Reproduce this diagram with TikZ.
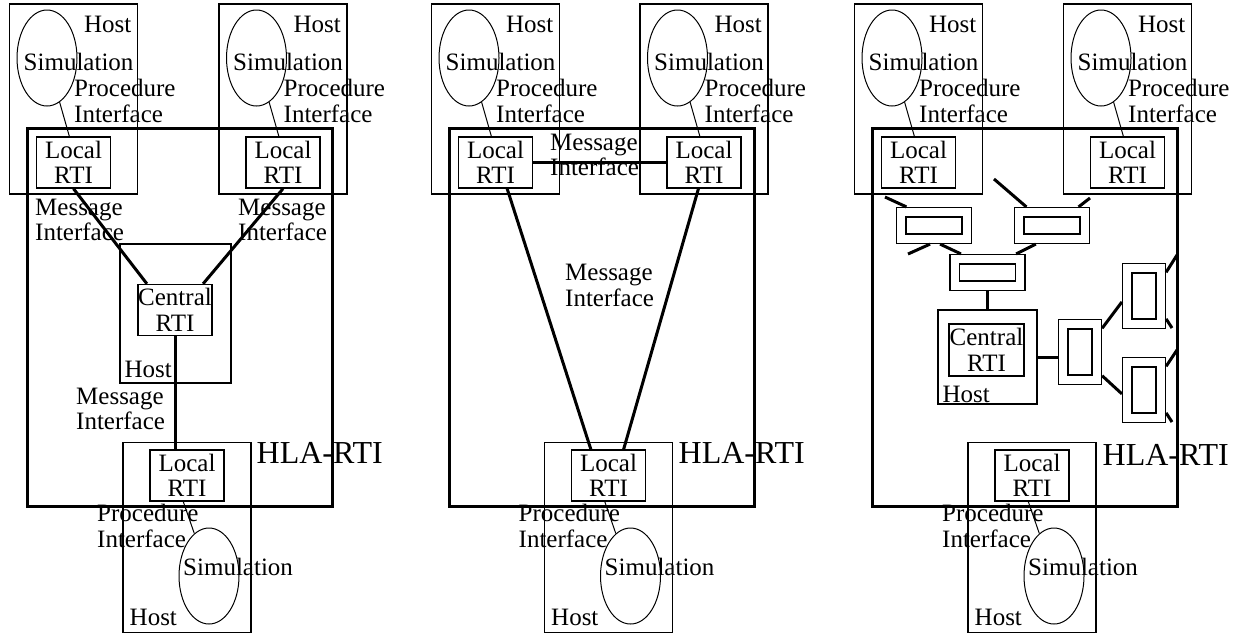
\documentclass[tikz,border=0pt]{standalone}
\usepackage{fontspec}
\setmainfont{Liberation Serif}
\usetikzlibrary{calc, shapes.geometric}

\begin{document}
\begin{tikzpicture}[x=1pt, y=-1pt, font=\fontsize{25}{25.5}\selectfont]
    \tikzstyle{host} = [rectangle, draw, line width=1.2pt, minimum width=128, minimum height=190, inner sep=0]
    \tikzstyle{rti} = [rectangle, draw, line width=1.4pt, minimum width=74, minimum height=51, inner sep=0, align=center]
    \tikzstyle{sim} = [ellipse, draw, line width=1pt, minimum width=60, minimum height=96, inner sep=0]
    \tikzstyle{hla} = [rectangle, draw, line width=3pt, minimum width=305, minimum height=378, inner sep=0]
    \tikzstyle{hubh} = [rectangle, draw, line width=1.2pt, double, double distance=8.3pt, outer sep=5.35pt, inner sep=0, minimum width=65.5, minimum height=26.5]
    \tikzstyle{hubv} = [hubh, minimum width=33.5, minimum height=55.5]
    \tikzstyle{txt} = [inner sep=0, align=left]
    \tikzstyle{link} = [line width=3pt]
    \tikzstyle{call} = [line width=1pt]

    \useasboundingbox (0, 0) rectangle (1238, 633);

    % Central RTI ----------------------------------------
    \node (hostA1) at (73.5, 99) [host] {};
    \node (simA1) at ($(hostA1) + (-26.5, -41)$) [sim] {};
    \node (rtiA1) at ($(hostA1) + (0, 63.5)$) [rti] {Local\\RTI};
    \node (hostA1txt) at ($(hostA1) + (58, -67)$) [txt, anchor=base east] {Host};
    \node (simA1txt) at ($(hostA1) + (-50, -29)$) [txt, anchor=base west] {Simulation};
    \node (procA1) at ($(hostA1) + (0.5, -20)$) [txt, anchor=north west] {Procedure\\Interface};

    \node (hostA2) at (283, 99) [host] {};
    \node (simA2) at ($(hostA2) + (-26.5, -41)$) [sim] {};
    \node (rtiA2) at ($(hostA2) + (0, 63.5)$) [rti] {Local\\RTI};
    \node (hostA2txt) at ($(hostA2) + (58, -67)$) [txt, anchor=base east] {Host};
    \node (simA2txt) at ($(hostA2) + (-50, -29)$) [txt, anchor=base west] {Simulation};
    \node (procA2) at ($(hostA2) + (0.5, -20)$) [txt, anchor=north west] {Procedure\\Interface};

    \node (hostA3) at (187, 537.5) [host] {};
    \node (simA3) at ($(hostA3) + (22, 38.5)$) [sim] {};
    \node (rtiA3) at ($(hostA3) + (0, -62)$) [rti] {Local\\RTI};
    \node (hostA3txt) at ($(hostA3) + (-57.5, 87.5)$) [txt, anchor=base west] {Host};
    \node (simA3txt) at ($(hostA3) + (-4, 37.5)$) [txt, anchor=base west] {Simulation};
    \node (procA3) at ($(hostA3) + (-90, -33.5)$) [txt, anchor=north west] {Procedure\\Interface};

    \node (hostA4) at (175.5, 313.5) [host, minimum width=111, minimum height=139] {};
    \node (rtiA4) at (175, 310) [rti] {Central\\RTI};
    \node (hostA4txt) at ($(hostA4.south west) + (5, -6)$) [txt, anchor=base west] {Host};

    \node (hlaA) at (180, 317) [hla] {};
    \node (hlaAtxt) at ($(hlaA.east) + (-77.5, 146)$) [txt, anchor=base west, font=\fontsize{32}{32}\selectfont] {HLA-RTI};

    \node (msgA1) at (35, 198.5) [txt, anchor=north west] {Message\\Interface};
    \node (msgA2) at (238, 198.5) [txt, anchor=north west] {Message\\Interface};
    \node (msgA3) at (76, 387.5) [txt, anchor=north west] {Message\\Interface};

    \draw [call] (simA1) -- (rtiA1.99);
    \draw [call] (simA2) -- (rtiA2.99);
    \draw [call] (rtiA3.-98) -- (simA3);
    \draw [link] (rtiA1.south) -- (rtiA4.137);
    \draw [link] (rtiA2.south) -- (rtiA4.43);
    \draw [link] (rtiA4.south) -- (rtiA4.south |- rtiA3.north);
    % ---------------------------------------------------

    % Distributed RTI ------------------------------------
    \node (hostB1) at (495.5, 99) [host] {};
    \node (simB1) at ($(hostB1) + (-26.5, -41)$) [sim] {};
    \node (rtiB1) at ($(hostB1) + (0, 63.5)$) [rti] {Local\\RTI};
    \node (hostB1txt) at ($(hostB1) + (58, -67)$) [txt, anchor=base east] {Host};
    \node (simB1txt) at ($(hostB1) + (-50, -29)$) [txt, anchor=base west] {Simulation};
    \node (procB1) at ($(hostB1) + (0.5, -20)$) [txt, anchor=north west] {Procedure\\Interface};

    \node (hostB2) at (704, 99) [host] {};
    \node (simB2) at ($(hostB2) + (-26.5, -41)$) [sim] {};
    \node (rtiB2) at ($(hostB2) + (0, 63.5)$) [rti] {Local\\RTI};
    \node (hostB2txt) at ($(hostB2) + (58, -67)$) [txt, anchor=base east] {Host};
    \node (simB2txt) at ($(hostB2) + (-50, -29)$) [txt, anchor=base west] {Simulation};
    \node (procB2) at ($(hostB2) + (0.5, -20)$) [txt, anchor=north west] {Procedure\\Interface};

    \node (hostB3) at (608.5, 537.5) [host] {};
    \node (simB3) at ($(hostB3) + (22, 38.5)$) [sim] {};
    \node (rtiB3) at ($(hostB3) + (0, -62)$) [rti] {Local\\RTI};
    \node (hostB3txt) at ($(hostB3) + (-57.5, 87.5)$) [txt, anchor=base west] {Host};
    \node (simB3txt) at ($(hostB3) + (-4, 37.5)$) [txt, anchor=base west] {Simulation};
    \node (procB3) at ($(hostB3) + (-90, -33.5)$) [txt, anchor=north west] {Procedure\\Interface};

    \node (hlaB) at (602, 317) [hla] {};
    \node (hlaBtxt) at ($(hlaB.east) + (-77.5, 146)$) [txt, anchor=base west, font=\fontsize{32}{32}\selectfont] {HLA-RTI};

    \node (msgB1) at (550, 133.5) [txt, anchor=north west] {Message\\Interface};
    \node (msgB2) at (565, 264) [txt, anchor=north west] {Message\\Interface};

    \draw [call] (simB1) -- (rtiB1.99);
    \draw [call] (simB2) -- (rtiB2.99);
    \draw [call] (rtiB3.-98) -- (simB3);
    \draw [link] (rtiB1.east) -- (rtiB2.west);
    \draw [link] (rtiB1.-66) -- (rtiB3.124);
    \draw [link] (rtiB2.-102) -- (rtiB3.60);
    % ---------------------------------------------------

    % Networked RTI --------------------------------------
    \node (hostC1) at (918.5, 99) [host] {};
    \node (simC1) at ($(hostC1) + (-26.5, -41)$) [sim] {};
    \node (rtiC1) at ($(hostC1) + (0, 63.5)$) [rti] {Local\\RTI};
    \node (hostC1txt) at ($(hostC1) + (58, -67)$) [txt, anchor=base east] {Host};
    \node (simC1txt) at ($(hostC1) + (-50, -29)$) [txt, anchor=base west] {Simulation};
    \node (procC1) at ($(hostC1) + (0.5, -20)$) [txt, anchor=north west] {Procedure\\Interface};

    \node (hostC2) at (1127.5, 99) [host] {};
    \node (simC2) at ($(hostC2) + (-26.5, -41)$) [sim] {};
    \node (rtiC2) at ($(hostC2) + (0, 63.5)$) [rti] {Local\\RTI};
    \node (hostC2txt) at ($(hostC2) + (58, -67)$) [txt, anchor=base east] {Host};
    \node (simC2txt) at ($(hostC2) + (-50, -29)$) [txt, anchor=base west] {Simulation};
    \node (procC2) at ($(hostC2) + (0.5, -20)$) [txt, anchor=north west] {Procedure\\Interface};

    \node (hostC3) at (1032, 537.5) [host] {};
    \node (simC3) at ($(hostC3) + (22, 38.5)$) [sim] {};
    \node (rtiC3) at ($(hostC3) + (0, -62)$) [rti] {Local\\RTI};
    \node (hostC3txt) at ($(hostC3) + (-57.5, 87.5)$) [txt, anchor=base west] {Host};
    \node (simC3txt) at ($(hostC3) + (-4, 37.5)$) [txt, anchor=base west] {Simulation};
    \node (procC3) at ($(hostC3) + (-90, -33.5)$) [txt, anchor=north west] {Procedure\\Interface};

    \node (hostC4) at (987.5, 357) [host, minimum width=99, minimum height=94] {};
    \node (rtiC4) at (986.5, 350) [rti, minimum width=75, minimum height=52] {Central\\RTI};
    \node (hostC4txt) at ($(hostC4.south west) + (5, -2)$) [txt, anchor=base west] {Host};

    \node (hlaC) at (1024.5, 317) [hla] {};
    \node (hlaCtxt) at ($(hlaC.east) + (-76, 148)$) [txt, anchor=base west, font=\fontsize{32}{32}\selectfont] {HLA-RTI};

    % network hubs
    \node (hubC1) at (934, 225.5) [hubh] {};
    \node (hubC2) at (1052, 225.5) [hubh] {};
    \node (hubC3) at (987.5, 272.5) [hubh] {};
    \node (hubC4) at (1144, 296) [hubv] {};
    \node (hubC5) at (1080, 352) [hubv] {};
    \node (hubC6) at (1144, 390) [hubv] {};

    \coordinate (endC1) at (885, 197);
    \coordinate (endC2) at (994, 179);
    \coordinate (endC3) at (1090, 198);
    \coordinate (endC4) at (908, 254);
    \coordinate (endC5) at (1177, 255);
    \coordinate (endC6) at (1172, 328);
    \coordinate (endC7) at (1177, 350);
    \coordinate (endC8) at (1172, 422);

    \draw [call] (simC1) -- (rtiC1.99);
    \draw [call] (simC2) -- (rtiC2.99);
    \draw [call] (rtiC3.-98) -- (simC3);
    \draw [link] (hubC1.146) -- (endC1);
    \draw [link] (hubC2.144) -- (endC2);
    \draw [link] (hubC2.35) -- (endC3);
    \draw [link] (hubC1.-102) -- (endC4);
    \draw [link] (hubC1.-72) -- (hubC3.145);
    \draw [link] (hubC2.-131) -- (hubC3.33.5);
    \draw [link] (hubC3.south) -- (hostC4.north);
    \draw [link] (hostC4.east) -- (hostC4.east -| hubC5.west);
    \draw [link] (hubC5.47.5) -- (hubC4.195);
    \draw [link] (hubC5.-47.5) -- (hubC6.190);
    \draw [link] (hubC4.47.5) -- (endC5);
    \draw [link] (hubC4.-46) -- (endC6);
    \draw [link] (hubC6.47.5) -- (endC7);
    \draw [link] (hubC6.-46) -- (endC8);
    % ---------------------------------------------------
\end{tikzpicture}
\end{document}
